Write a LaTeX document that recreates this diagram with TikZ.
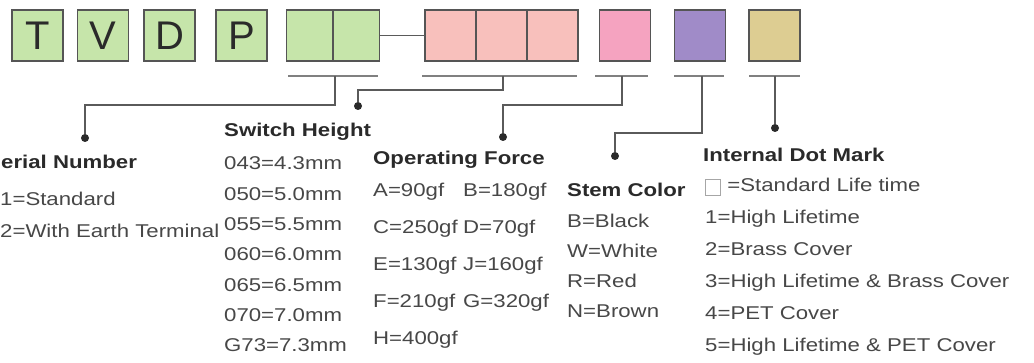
\documentclass[tikz,border=0pt]{standalone}
\usepackage{fontspec}
\setmainfont{Liberation Sans}[FakeStretch=1.2]
\newfontfamily\boxfont{Liberation Sans}
\usepackage{tikz}
\usetikzlibrary{positioning}
\definecolor{edgegray}{HTML}{555555}
\definecolor{linegray}{HTML}{5A5A5A}
\definecolor{ulgray}{HTML}{808080}
\definecolor{textgray}{HTML}{474747}
\definecolor{headgray}{HTML}{2A2A2A}
\definecolor{boxgreen}{HTML}{C6E5AA}
\definecolor{boxsalmon}{HTML}{F8C0BC}
\definecolor{boxpink}{HTML}{F5A3C0}
\definecolor{boxpurple}{HTML}{A08BC8}
\definecolor{boxtan}{HTML}{DDCD92}
\begin{document}
\begin{tikzpicture}[x=1pt,y=-1pt,
 cell/.style={draw=edgegray,line width=1.8pt,minimum width=51pt,minimum height=51pt,inner sep=0pt,outer sep=0pt,text=headgray,font=\boxfont\fontsize{40}{40}\selectfont},
 head/.style={anchor=base west,inner sep=0pt,text=headgray,font=\bfseries\fontsize{18.5}{18.5}\selectfont},
 item/.style={anchor=base west,inner sep=0pt,text=textgray,font=\fontsize{18.5}{18.5}\selectfont},
 uline/.style={draw=ulgray,line width=1.8pt},
 link/.style={draw=linegray,line width=1.6pt},
 dot/.style={circle,fill=headgray,inner sep=0pt,minimum size=8pt}]
\fill[white] (0,0) rectangle (1034,363);
\useasboundingbox (0,0) rectangle (1034,363);

% code boxes
\node[cell,fill=boxgreen] (t) at (37.5,35.5) {T};
\node[cell,fill=boxgreen] (v) at (103,35.5) {V};
\node[cell,fill=boxgreen] (d) at (169.5,35.5) {D};
\node[cell,fill=boxgreen] (p) at (241.5,35.5) {P};
\node[cell,fill=boxgreen,minimum width=46.5pt] (g1) at (309.75,35.5) {};
\node[cell,fill=boxgreen,minimum width=46.5pt,right=0pt of g1] (g2) {};
\node[cell,fill=boxsalmon] (f1) at (450.5,35.5) {};
\node[cell,fill=boxsalmon,right=0pt of f1] (f2) {};
\node[cell,fill=boxsalmon,right=0pt of f2] (f3) {};
\node[cell,fill=boxpink] (sc) at (625,35.5) {};
\node[cell,fill=boxpurple] (pu) at (700,35.5) {};
\node[cell,fill=boxtan] (tn) at (774.5,35.5) {};
\draw[link] (g2) -- (f1);

% underlines
\draw[uline] (288,76) -- (378,76);
\draw[uline] (422,76) -- (577,76);
\draw[uline] (595,76) -- (648,76);
\draw[uline] (674,76) -- (724,76);
\draw[uline] (749,76) -- (800,76);
\coordinate (uG) at (335,76);
\coordinate (uF) at (503,76);
\coordinate (uS) at (622,76);
\coordinate (uC) at (702,76);
\coordinate (uD) at (775,76);

% dots
\node[dot] (dSN) at (85,138) {};
\node[dot] (dSH) at (358,106) {};
\node[dot] (dOF) at (503,137) {};
\node[dot] (dSC) at (615,156) {};
\node[dot] (dDM) at (775,128) {};

\draw[link] (uG) -- ++(0,29) -| (dSN);
\draw[link] (uF) -- ++(0,14) -| (dSH);
\draw[link] (uS) -- ++(0,29) -| (dOF);
\draw[link] (uC) -- ++(0,57) -| (dSC);
\draw[link] (uD) -- (dDM);

% serial number
\node[head] (sn) at (1,169) {erial Number};
\node[item] (sn1) at (0,206) {1=Standard};
\node[item] (sn2) at (0,238) {2=With Earth Terminal};

% switch height
\node[head] (sh) at (224,137) {Switch Height};
\foreach \t [count=\i] in {043=4.3mm,050=5.0mm,055=5.5mm,060=6.0mm,065=6.5mm,070=7.0mm,G73=7.3mm}
  \node[item] (sh\i) at (224,{170+(\i-1)*30.3}) {\t};

% operating force
\node[head] (of) at (373,165) {Operating Force};
\foreach \a/\b [count=\i] in {A=90gf/B=180gf,C=250gf/D=70gf,E=130gf/J=160gf,F=210gf/G=320gf,H=400gf/{}}{
  \node[item] (ofa\i) at (373,{197+(\i-1)*37}) {\a};
  \node[item] (ofb\i) at (463,{197+(\i-1)*37}) {\b};
}

% stem color
\node[head] (st) at (567,197) {Stem Color};
\foreach \t [count=\i] in {B=Black,W=White,R=Red,N=Brown}
  \node[item] (st\i) at (567,{228+(\i-1)*30}) {\t};

% internal dot mark
\node[head] (dm) at (703,162) {Internal Dot Mark};
\node[item] (dm0) at (705,192) {\raisebox{-3pt}{\textcolor{ulgray!70}{\fboxrule=1pt\fboxsep=0pt\fbox{\rule{0pt}{15pt}\rule{14pt}{0pt}}}}\,\,=Standard Life time};
\foreach \t [count=\i] in {1=High Lifetime,2=Brass Cover,3=High Lifetime \& Brass Cover,4=PET Cover,5=High Lifetime \& PET Cover}
  \node[item] (dm\i) at (705,{192+\i*32}) {\t};
\end{tikzpicture}
\end{document}
